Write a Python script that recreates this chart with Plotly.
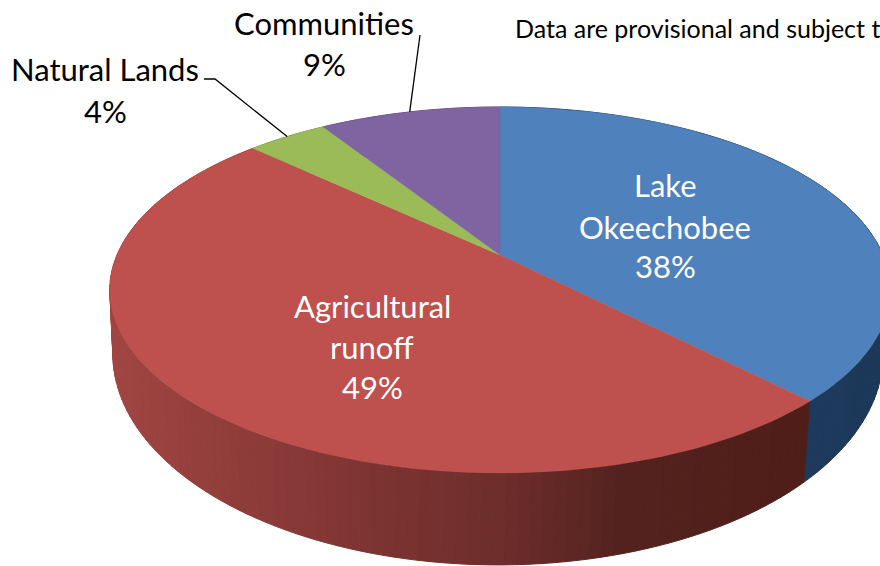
import numpy as np
import plotly.graph_objects as go

# ---- data ----
categories = ["Lake Okeechobee", "Agricultural runoff", "Natural Lands", "Communities"]
shares = [37.7, 49.3, 4.0, 9.0]
top_colors = ["#4f81bd", "#be504d", "#9bbb59", "#8064a2"]
wall_x = [115, 380, 500, 620, 810, 880]
wall_shades = {
    0: ["#1d3a5c", "#1d3a5c", "#1d3a5c", "#1d3a5c", "#1e3b5e", "#1c3858"],
    1: ["#a04542", "#7c3432", "#6e2e2c", "#55231f", "#4f1e18", "#4f1e18"],
    2: ["#6f8a3e", "#6f8a3e", "#6f8a3e", "#6f8a3e", "#6f8a3e", "#6f8a3e"],
    3: ["#5c4878", "#5c4878", "#5c4878", "#5c4878", "#5c4878", "#5c4878"],
}
note_text = "Data are provisional and subject to"

# ---- projection of the tilted disc ----
CX, CY = 500.0, 255.0
A, B, K = 383.0, 176.3, 0.191
CX2, A2, B2, CY2 = 498.0, 378.0, 203.0, 314.0
FONT = "Lato"


def project(deg, a=A, b=B, cy=CY, cx=CX):
    t = np.radians(deg)
    X, Y = np.sin(t), -np.cos(t)
    w = 1 - K * Y
    return cx + a * X / w, cy + b * Y / w


def hex_rgb(h):
    return [int(h[i:i + 2], 16) for i in (1, 3, 5)]


def shade(i, x):
    rgb = np.array([hex_rgb(h) for h in wall_shades[i]], float)
    vals = [np.interp(x, wall_x, rgb[:, c]) for c in range(3)]
    return "rgb(%d,%d,%d)" % tuple(vals)


edges = np.cumsum([0] + shares) * 3.6
fig = go.Figure()

# side wall, as thin shaded quads
for i in range(len(shares)):
    a0, a1 = edges[i], edges[i + 1]
    n = max(2, int((a1 - a0) / 1.5))
    steps = np.linspace(a0, a1, n + 1)
    for s0, s1 in zip(steps[:-1], steps[1:]):
        tx0, ty0 = project(s0)
        tx1, ty1 = project(s1)
        bx0, by0 = project(s0, A2, B2, CY2, CX2)
        bx1, by1 = project(s1, A2, B2, CY2, CX2)
        col = shade(i, 0.5 * (tx0 + tx1))
        fig.add_trace(go.Scatter(
            x=[tx0, tx1, bx1, bx0, tx0], y=[ty0, ty1, by1, by0, ty0],
            mode="lines", fill="toself", fillcolor=col,
            line=dict(color=col, width=1), hoverinfo="skip", showlegend=False))

# top faces
for i, name in enumerate(categories):
    steps = np.linspace(edges[i], edges[i + 1], 120)
    px, py = project(steps)
    fig.add_trace(go.Scatter(
        x=np.r_[CX, px, CX], y=np.r_[CY, py, CY], name=name,
        mode="lines", fill="toself", fillcolor=top_colors[i],
        line=dict(color=top_colors[i], width=0.5), hoverinfo="skip", showlegend=False))

# leader lines, ending on the wedge mid angles
mid = 0.5 * (edges[:-1] + edges[1:])
nx, ny = project(mid[2])
cx, cy = project(mid[3])
fig.add_trace(go.Scatter(x=[204, 215, nx], y=[79, 79, ny], mode="lines",
                         line=dict(color="black", width=1.3), hoverinfo="skip", showlegend=False))
fig.add_trace(go.Scatter(x=[420, cx], y=[35, cy], mode="lines",
                         line=dict(color="black", width=1.3), hoverinfo="skip", showlegend=False))


def label(x, y, text, color="black", size=31, anchor="center"):
    fig.add_annotation(x=x, y=y, text=text, showarrow=False, xanchor=anchor, yanchor="middle",
                       font=dict(family=FONT, size=size, color=color))


label(665, 185, "Lake", "white")
label(665, 227, "Okeechobee", "white")
label(665, 266, f"{shares[0]:.0f}%", "white")
label(372, 306, "Agricultural", "white")
label(372, 347, "runoff", "white")
label(372, 387, f"{shares[1]:.0f}%", "white")
label(105, 69, "Natural Lands")
label(105, 111, f"{shares[2]:.0f}%")
label(324, 23, "Communities")
label(324, 64, f"{shares[3]:.0f}%")
label(513, 28, note_text, size=25, anchor="left")

fig.update_layout(
    width=880, height=566, margin=dict(l=0, r=0, t=0, b=0),
    paper_bgcolor="white", plot_bgcolor="white", showlegend=False,
    xaxis=dict(range=[0, 880], visible=False, fixedrange=True),
    yaxis=dict(range=[566, 0], visible=False, fixedrange=True),
)
fig.write_html("out.html", config={"displayModeBar": False},
               post_script="document.body.style.margin='0';document.body.style.overflow='hidden';")
